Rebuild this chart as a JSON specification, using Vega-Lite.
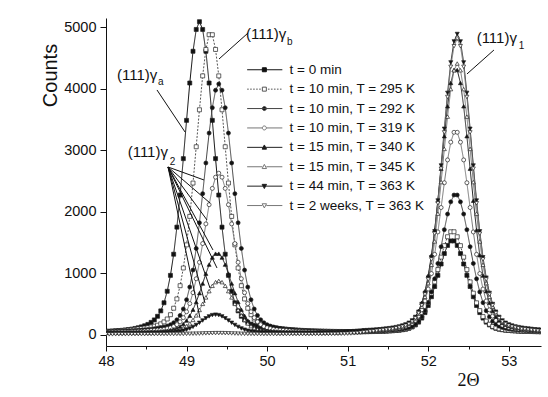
{
"$schema":"https://vega.github.io/schema/vega-lite/v6.json",
"width":435,"height":328,
"autosize":{"type":"none"},
"padding":{"left":106,"top":18,"right":7,"bottom":51},
"background":"#ffffff",
"config":{"view":{"stroke":null},"font":"Liberation Sans"},
"data":{"values":[
{"s":1,"x":48,"y":60},{"s":1,"x":48.04,"y":62},{"s":1,"x":48.08,"y":65},{"s":1,"x":48.12,"y":68},{"s":1,"x":48.16,"y":72},{"s":1,"x":48.2,"y":76},{"s":1,"x":48.24,"y":82},{"s":1,"x":48.28,"y":88},{"s":1,"x":48.32,"y":96},{"s":1,"x":48.36,"y":106},
{"s":1,"x":48.4,"y":118},{"s":1,"x":48.44,"y":132},{"s":1,"x":48.48,"y":150},{"s":1,"x":48.52,"y":172},{"s":1,"x":48.56,"y":205},{"s":1,"x":48.6,"y":245},{"s":1,"x":48.64,"y":304},{"s":1,"x":48.68,"y":392},{"s":1,"x":48.72,"y":524},{"s":1,"x":48.76,"y":711},
{"s":1,"x":48.8,"y":969},{"s":1,"x":48.84,"y":1313},{"s":1,"x":48.88,"y":1753},{"s":1,"x":48.92,"y":2275},{"s":1,"x":48.96,"y":2867},{"s":1,"x":49,"y":3489},{"s":1,"x":49.04,"y":4096},{"s":1,"x":49.08,"y":4612},{"s":1,"x":49.12,"y":4967},{"s":1,"x":49.16,"y":5093},
{"s":1,"x":49.2,"y":4967},{"s":1,"x":49.24,"y":4612},{"s":1,"x":49.28,"y":4096},{"s":1,"x":49.32,"y":3489},{"s":1,"x":49.36,"y":2867},{"s":1,"x":49.4,"y":2275},{"s":1,"x":49.44,"y":1753},{"s":1,"x":49.48,"y":1313},{"s":1,"x":49.52,"y":969},{"s":1,"x":49.56,"y":711},
{"s":1,"x":49.6,"y":524},{"s":1,"x":49.64,"y":392},{"s":1,"x":49.68,"y":304},{"s":1,"x":49.72,"y":245},{"s":1,"x":49.76,"y":205},{"s":1,"x":49.8,"y":177},{"s":1,"x":49.84,"y":158},{"s":1,"x":49.88,"y":143},{"s":1,"x":49.92,"y":132},{"s":1,"x":49.96,"y":122},
{"s":1,"x":50,"y":114},{"s":1,"x":50.04,"y":107},{"s":1,"x":50.08,"y":101},{"s":1,"x":50.12,"y":96},{"s":1,"x":50.16,"y":91},{"s":1,"x":50.2,"y":88},{"s":1,"x":50.24,"y":84},{"s":1,"x":50.28,"y":81},{"s":1,"x":50.32,"y":78},{"s":1,"x":50.36,"y":74},
{"s":1,"x":50.4,"y":70},{"s":1,"x":50.44,"y":68},{"s":1,"x":50.48,"y":66},{"s":1,"x":50.52,"y":64},{"s":1,"x":50.56,"y":62},{"s":1,"x":50.6,"y":61},{"s":1,"x":50.64,"y":60},{"s":1,"x":50.68,"y":59},{"s":1,"x":50.72,"y":58},{"s":1,"x":50.76,"y":57},
{"s":1,"x":50.8,"y":56},{"s":1,"x":50.84,"y":56},{"s":1,"x":50.88,"y":55},{"s":1,"x":50.92,"y":55},{"s":1,"x":50.96,"y":54},{"s":1,"x":51,"y":54},{"s":1,"x":51.04,"y":53},{"s":1,"x":51.08,"y":52},{"s":1,"x":51.12,"y":52},{"s":1,"x":51.16,"y":52},
{"s":1,"x":51.2,"y":53},{"s":1,"x":51.24,"y":54},{"s":1,"x":51.28,"y":55},{"s":1,"x":51.32,"y":56},{"s":1,"x":51.36,"y":58},{"s":1,"x":51.4,"y":59},{"s":1,"x":51.44,"y":61},{"s":1,"x":51.48,"y":63},{"s":1,"x":51.52,"y":66},{"s":1,"x":51.56,"y":69},
{"s":1,"x":51.6,"y":73},{"s":1,"x":51.64,"y":78},{"s":1,"x":51.68,"y":85},{"s":1,"x":51.72,"y":94},{"s":1,"x":51.76,"y":109},{"s":1,"x":51.8,"y":130},{"s":1,"x":51.84,"y":163},{"s":1,"x":51.88,"y":209},{"s":1,"x":51.92,"y":275},{"s":1,"x":51.96,"y":364},
{"s":1,"x":52,"y":479},{"s":1,"x":52.04,"y":622},{"s":1,"x":52.08,"y":788},{"s":1,"x":52.12,"y":970},{"s":1,"x":52.16,"y":1154},{"s":1,"x":52.2,"y":1324},{"s":1,"x":52.24,"y":1456},{"s":1,"x":52.28,"y":1529},{"s":1,"x":52.32,"y":1529},{"s":1,"x":52.36,"y":1456},
{"s":1,"x":52.4,"y":1324},{"s":1,"x":52.44,"y":1154},{"s":1,"x":52.48,"y":970},{"s":1,"x":52.52,"y":788},{"s":1,"x":52.56,"y":622},{"s":1,"x":52.6,"y":479},{"s":1,"x":52.64,"y":364},{"s":1,"x":52.68,"y":275},{"s":1,"x":52.72,"y":209},{"s":1,"x":52.76,"y":163},
{"s":1,"x":52.8,"y":130},{"s":1,"x":52.84,"y":109},{"s":1,"x":52.88,"y":94},{"s":1,"x":52.92,"y":85},{"s":1,"x":52.96,"y":78},{"s":1,"x":53,"y":73},{"s":1,"x":53.04,"y":69},{"s":1,"x":53.08,"y":66},{"s":1,"x":53.12,"y":63},{"s":1,"x":53.16,"y":61},
{"s":1,"x":53.2,"y":59},{"s":1,"x":53.24,"y":58},{"s":1,"x":53.28,"y":56},{"s":1,"x":53.32,"y":55},{"s":1,"x":53.36,"y":54},{"s":1,"x":53.4,"y":53},

{"s":2,"x":48,"y":55},{"s":2,"x":48.04,"y":57},{"s":2,"x":48.08,"y":60},{"s":2,"x":48.12,"y":63},{"s":2,"x":48.16,"y":66},{"s":2,"x":48.2,"y":70},{"s":2,"x":48.24,"y":75},{"s":2,"x":48.28,"y":80},{"s":2,"x":48.32,"y":86},{"s":2,"x":48.36,"y":92},
{"s":2,"x":48.4,"y":99},{"s":2,"x":48.44,"y":105},{"s":2,"x":48.48,"y":112},{"s":2,"x":48.52,"y":120},{"s":2,"x":48.56,"y":131},{"s":2,"x":48.6,"y":143},{"s":2,"x":48.64,"y":159},{"s":2,"x":48.68,"y":181},{"s":2,"x":48.72,"y":213},{"s":2,"x":48.76,"y":260},
{"s":2,"x":48.8,"y":330},{"s":2,"x":48.84,"y":435},{"s":2,"x":48.88,"y":586},{"s":2,"x":48.92,"y":801},{"s":2,"x":48.96,"y":1089},{"s":2,"x":49,"y":1465},{"s":2,"x":49.04,"y":1928},{"s":2,"x":49.08,"y":2470},{"s":2,"x":49.12,"y":3060},{"s":2,"x":49.16,"y":3661},
{"s":2,"x":49.2,"y":4212},{"s":2,"x":49.24,"y":4642},{"s":2,"x":49.28,"y":4881},{"s":2,"x":49.32,"y":4881},{"s":2,"x":49.36,"y":4642},{"s":2,"x":49.4,"y":4212},{"s":2,"x":49.44,"y":3661},{"s":2,"x":49.48,"y":3060},{"s":2,"x":49.52,"y":2470},{"s":2,"x":49.56,"y":1928},
{"s":2,"x":49.6,"y":1465},{"s":2,"x":49.64,"y":1089},{"s":2,"x":49.68,"y":801},{"s":2,"x":49.72,"y":586},{"s":2,"x":49.76,"y":435},{"s":2,"x":49.8,"y":330},{"s":2,"x":49.84,"y":260},{"s":2,"x":49.88,"y":213},{"s":2,"x":49.92,"y":181},{"s":2,"x":49.96,"y":159},
{"s":2,"x":50,"y":143},{"s":2,"x":50.04,"y":131},{"s":2,"x":50.08,"y":120},{"s":2,"x":50.12,"y":112},{"s":2,"x":50.16,"y":105},{"s":2,"x":50.2,"y":99},{"s":2,"x":50.24,"y":93},{"s":2,"x":50.28,"y":89},{"s":2,"x":50.32,"y":84},{"s":2,"x":50.36,"y":81},
{"s":2,"x":50.4,"y":77},{"s":2,"x":50.44,"y":74},{"s":2,"x":50.48,"y":71},{"s":2,"x":50.52,"y":69},{"s":2,"x":50.56,"y":67},{"s":2,"x":50.6,"y":65},{"s":2,"x":50.64,"y":63},{"s":2,"x":50.68,"y":62},{"s":2,"x":50.72,"y":61},{"s":2,"x":50.76,"y":60},
{"s":2,"x":50.8,"y":59},{"s":2,"x":50.84,"y":58},{"s":2,"x":50.88,"y":57},{"s":2,"x":50.92,"y":57},{"s":2,"x":50.96,"y":56},{"s":2,"x":51,"y":56},{"s":2,"x":51.04,"y":55},{"s":2,"x":51.08,"y":55},{"s":2,"x":51.12,"y":55},{"s":2,"x":51.16,"y":55},
{"s":2,"x":51.2,"y":55},{"s":2,"x":51.24,"y":56},{"s":2,"x":51.28,"y":57},{"s":2,"x":51.32,"y":58},{"s":2,"x":51.36,"y":59},{"s":2,"x":51.4,"y":61},{"s":2,"x":51.44,"y":63},{"s":2,"x":51.48,"y":66},{"s":2,"x":51.52,"y":69},{"s":2,"x":51.56,"y":72},
{"s":2,"x":51.6,"y":76},{"s":2,"x":51.64,"y":82},{"s":2,"x":51.68,"y":89},{"s":2,"x":51.72,"y":100},{"s":2,"x":51.76,"y":116},{"s":2,"x":51.8,"y":139},{"s":2,"x":51.84,"y":175},{"s":2,"x":51.88,"y":226},{"s":2,"x":51.92,"y":299},{"s":2,"x":51.96,"y":396},
{"s":2,"x":52,"y":523},{"s":2,"x":52.04,"y":680},{"s":2,"x":52.08,"y":863},{"s":2,"x":52.12,"y":1063},{"s":2,"x":52.16,"y":1266},{"s":2,"x":52.2,"y":1452},{"s":2,"x":52.24,"y":1597},{"s":2,"x":52.28,"y":1678},{"s":2,"x":52.32,"y":1678},{"s":2,"x":52.36,"y":1597},
{"s":2,"x":52.4,"y":1452},{"s":2,"x":52.44,"y":1266},{"s":2,"x":52.48,"y":1063},{"s":2,"x":52.52,"y":863},{"s":2,"x":52.56,"y":680},{"s":2,"x":52.6,"y":523},{"s":2,"x":52.64,"y":396},{"s":2,"x":52.68,"y":299},{"s":2,"x":52.72,"y":226},{"s":2,"x":52.76,"y":175},
{"s":2,"x":52.8,"y":139},{"s":2,"x":52.84,"y":116},{"s":2,"x":52.88,"y":100},{"s":2,"x":52.92,"y":89},{"s":2,"x":52.96,"y":82},{"s":2,"x":53,"y":76},{"s":2,"x":53.04,"y":72},{"s":2,"x":53.08,"y":69},{"s":2,"x":53.12,"y":66},{"s":2,"x":53.16,"y":63},
{"s":2,"x":53.2,"y":61},{"s":2,"x":53.24,"y":59},{"s":2,"x":53.28,"y":58},{"s":2,"x":53.32,"y":56},{"s":2,"x":53.36,"y":55},{"s":2,"x":53.4,"y":54},

{"s":3,"x":48,"y":54},{"s":3,"x":48.04,"y":56},{"s":3,"x":48.08,"y":57},{"s":3,"x":48.12,"y":59},{"s":3,"x":48.16,"y":61},{"s":3,"x":48.2,"y":63},{"s":3,"x":48.24,"y":66},{"s":3,"x":48.28,"y":68},{"s":3,"x":48.32,"y":71},{"s":3,"x":48.36,"y":74},
{"s":3,"x":48.4,"y":77},{"s":3,"x":48.44,"y":80},{"s":3,"x":48.48,"y":85},{"s":3,"x":48.52,"y":90},{"s":3,"x":48.56,"y":95},{"s":3,"x":48.6,"y":101},{"s":3,"x":48.64,"y":109},{"s":3,"x":48.68,"y":118},{"s":3,"x":48.72,"y":130},{"s":3,"x":48.76,"y":145},
{"s":3,"x":48.8,"y":167},{"s":3,"x":48.84,"y":199},{"s":3,"x":48.88,"y":247},{"s":3,"x":48.92,"y":318},{"s":3,"x":48.96,"y":423},{"s":3,"x":49,"y":573},{"s":3,"x":49.04,"y":779},{"s":3,"x":49.08,"y":1055},{"s":3,"x":49.12,"y":1407},{"s":3,"x":49.16,"y":1824},
{"s":3,"x":49.2,"y":2298},{"s":3,"x":49.24,"y":2796},{"s":3,"x":49.28,"y":3282},{"s":3,"x":49.32,"y":3695},{"s":3,"x":49.36,"y":3979},{"s":3,"x":49.4,"y":4080},{"s":3,"x":49.44,"y":3979},{"s":3,"x":49.48,"y":3695},{"s":3,"x":49.52,"y":3282},{"s":3,"x":49.56,"y":2796},
{"s":3,"x":49.6,"y":2298},{"s":3,"x":49.64,"y":1824},{"s":3,"x":49.68,"y":1407},{"s":3,"x":49.72,"y":1055},{"s":3,"x":49.76,"y":779},{"s":3,"x":49.8,"y":573},{"s":3,"x":49.84,"y":423},{"s":3,"x":49.88,"y":318},{"s":3,"x":49.92,"y":247},{"s":3,"x":49.96,"y":199},
{"s":3,"x":50,"y":167},{"s":3,"x":50.04,"y":145},{"s":3,"x":50.08,"y":130},{"s":3,"x":50.12,"y":118},{"s":3,"x":50.16,"y":109},{"s":3,"x":50.2,"y":101},{"s":3,"x":50.24,"y":95},{"s":3,"x":50.28,"y":90},{"s":3,"x":50.32,"y":85},{"s":3,"x":50.36,"y":80},
{"s":3,"x":50.4,"y":77},{"s":3,"x":50.44,"y":74},{"s":3,"x":50.48,"y":71},{"s":3,"x":50.52,"y":68},{"s":3,"x":50.56,"y":66},{"s":3,"x":50.6,"y":63},{"s":3,"x":50.64,"y":61},{"s":3,"x":50.68,"y":59},{"s":3,"x":50.72,"y":57},{"s":3,"x":50.76,"y":56},
{"s":3,"x":50.8,"y":55},{"s":3,"x":50.84,"y":54},{"s":3,"x":50.88,"y":54},{"s":3,"x":50.92,"y":54},{"s":3,"x":50.96,"y":54},{"s":3,"x":51,"y":54},{"s":3,"x":51.04,"y":54},{"s":3,"x":51.08,"y":55},{"s":3,"x":51.12,"y":55},{"s":3,"x":51.16,"y":56},
{"s":3,"x":51.2,"y":58},{"s":3,"x":51.24,"y":60},{"s":3,"x":51.28,"y":61},{"s":3,"x":51.32,"y":63},{"s":3,"x":51.36,"y":65},{"s":3,"x":51.4,"y":67},{"s":3,"x":51.44,"y":70},{"s":3,"x":51.48,"y":72},{"s":3,"x":51.52,"y":76},{"s":3,"x":51.56,"y":80},
{"s":3,"x":51.6,"y":84},{"s":3,"x":51.64,"y":90},{"s":3,"x":51.68,"y":98},{"s":3,"x":51.72,"y":108},{"s":3,"x":51.76,"y":123},{"s":3,"x":51.8,"y":144},{"s":3,"x":51.84,"y":176},{"s":3,"x":51.88,"y":225},{"s":3,"x":51.92,"y":295},{"s":3,"x":51.96,"y":394},
{"s":3,"x":52,"y":526},{"s":3,"x":52.04,"y":700},{"s":3,"x":52.08,"y":913},{"s":3,"x":52.12,"y":1163},{"s":3,"x":52.16,"y":1435},{"s":3,"x":52.2,"y":1712},{"s":3,"x":52.24,"y":1966},{"s":3,"x":52.28,"y":2164},{"s":3,"x":52.32,"y":2275},{"s":3,"x":52.36,"y":2275},
{"s":3,"x":52.4,"y":2164},{"s":3,"x":52.44,"y":1966},{"s":3,"x":52.48,"y":1712},{"s":3,"x":52.52,"y":1435},{"s":3,"x":52.56,"y":1163},{"s":3,"x":52.6,"y":913},{"s":3,"x":52.64,"y":700},{"s":3,"x":52.68,"y":526},{"s":3,"x":52.72,"y":394},{"s":3,"x":52.76,"y":295},
{"s":3,"x":52.8,"y":225},{"s":3,"x":52.84,"y":176},{"s":3,"x":52.88,"y":144},{"s":3,"x":52.92,"y":123},{"s":3,"x":52.96,"y":108},{"s":3,"x":53,"y":98},{"s":3,"x":53.04,"y":90},{"s":3,"x":53.08,"y":84},{"s":3,"x":53.12,"y":80},{"s":3,"x":53.16,"y":76},
{"s":3,"x":53.2,"y":72},{"s":3,"x":53.24,"y":70},{"s":3,"x":53.28,"y":67},{"s":3,"x":53.32,"y":65},{"s":3,"x":53.36,"y":63},{"s":3,"x":53.4,"y":61},

{"s":4,"x":48,"y":46},{"s":4,"x":48.04,"y":46},{"s":4,"x":48.08,"y":47},{"s":4,"x":48.12,"y":48},{"s":4,"x":48.16,"y":50},{"s":4,"x":48.2,"y":51},{"s":4,"x":48.24,"y":53},{"s":4,"x":48.28,"y":54},{"s":4,"x":48.32,"y":56},{"s":4,"x":48.36,"y":58},
{"s":4,"x":48.4,"y":60},{"s":4,"x":48.44,"y":62},{"s":4,"x":48.48,"y":65},{"s":4,"x":48.52,"y":68},{"s":4,"x":48.56,"y":72},{"s":4,"x":48.6,"y":76},{"s":4,"x":48.64,"y":81},{"s":4,"x":48.68,"y":87},{"s":4,"x":48.72,"y":94},{"s":4,"x":48.76,"y":104},
{"s":4,"x":48.8,"y":118},{"s":4,"x":48.84,"y":139},{"s":4,"x":48.88,"y":169},{"s":4,"x":48.92,"y":215},{"s":4,"x":48.96,"y":282},{"s":4,"x":49,"y":378},{"s":4,"x":49.04,"y":511},{"s":4,"x":49.08,"y":688},{"s":4,"x":49.12,"y":914},{"s":4,"x":49.16,"y":1182},
{"s":4,"x":49.2,"y":1486},{"s":4,"x":49.24,"y":1806},{"s":4,"x":49.28,"y":2118},{"s":4,"x":49.32,"y":2383},{"s":4,"x":49.36,"y":2565},{"s":4,"x":49.4,"y":2630},{"s":4,"x":49.44,"y":2565},{"s":4,"x":49.48,"y":2383},{"s":4,"x":49.52,"y":2118},{"s":4,"x":49.56,"y":1806},
{"s":4,"x":49.6,"y":1486},{"s":4,"x":49.64,"y":1182},{"s":4,"x":49.68,"y":914},{"s":4,"x":49.72,"y":688},{"s":4,"x":49.76,"y":511},{"s":4,"x":49.8,"y":378},{"s":4,"x":49.84,"y":282},{"s":4,"x":49.88,"y":215},{"s":4,"x":49.92,"y":169},{"s":4,"x":49.96,"y":139},
{"s":4,"x":50,"y":118},{"s":4,"x":50.04,"y":104},{"s":4,"x":50.08,"y":94},{"s":4,"x":50.12,"y":87},{"s":4,"x":50.16,"y":81},{"s":4,"x":50.2,"y":76},{"s":4,"x":50.24,"y":72},{"s":4,"x":50.28,"y":68},{"s":4,"x":50.32,"y":65},{"s":4,"x":50.36,"y":62},
{"s":4,"x":50.4,"y":60},{"s":4,"x":50.44,"y":58},{"s":4,"x":50.48,"y":56},{"s":4,"x":50.52,"y":54},{"s":4,"x":50.56,"y":53},{"s":4,"x":50.6,"y":51},{"s":4,"x":50.64,"y":50},{"s":4,"x":50.68,"y":49},{"s":4,"x":50.72,"y":48},{"s":4,"x":50.76,"y":48},
{"s":4,"x":50.8,"y":47},{"s":4,"x":50.84,"y":47},{"s":4,"x":50.88,"y":48},{"s":4,"x":50.92,"y":48},{"s":4,"x":50.96,"y":49},{"s":4,"x":51,"y":50},{"s":4,"x":51.04,"y":52},{"s":4,"x":51.08,"y":55},{"s":4,"x":51.12,"y":58},{"s":4,"x":51.16,"y":61},
{"s":4,"x":51.2,"y":64},{"s":4,"x":51.24,"y":67},{"s":4,"x":51.28,"y":69},{"s":4,"x":51.32,"y":71},{"s":4,"x":51.36,"y":74},{"s":4,"x":51.4,"y":78},{"s":4,"x":51.44,"y":81},{"s":4,"x":51.48,"y":85},{"s":4,"x":51.52,"y":90},{"s":4,"x":51.56,"y":96},
{"s":4,"x":51.6,"y":103},{"s":4,"x":51.64,"y":111},{"s":4,"x":51.68,"y":122},{"s":4,"x":51.72,"y":137},{"s":4,"x":51.76,"y":158},{"s":4,"x":51.8,"y":189},{"s":4,"x":51.84,"y":237},{"s":4,"x":51.88,"y":307},{"s":4,"x":51.92,"y":409},{"s":4,"x":51.96,"y":553},
{"s":4,"x":52,"y":747},{"s":4,"x":52.04,"y":999},{"s":4,"x":52.08,"y":1311},{"s":4,"x":52.12,"y":1675},{"s":4,"x":52.16,"y":2072},{"s":4,"x":52.2,"y":2475},{"s":4,"x":52.24,"y":2846},{"s":4,"x":52.28,"y":3135},{"s":4,"x":52.32,"y":3295},{"s":4,"x":52.36,"y":3295},
{"s":4,"x":52.4,"y":3135},{"s":4,"x":52.44,"y":2846},{"s":4,"x":52.48,"y":2475},{"s":4,"x":52.52,"y":2072},{"s":4,"x":52.56,"y":1675},{"s":4,"x":52.6,"y":1311},{"s":4,"x":52.64,"y":999},{"s":4,"x":52.68,"y":747},{"s":4,"x":52.72,"y":553},{"s":4,"x":52.76,"y":409},
{"s":4,"x":52.8,"y":307},{"s":4,"x":52.84,"y":237},{"s":4,"x":52.88,"y":189},{"s":4,"x":52.92,"y":158},{"s":4,"x":52.96,"y":137},{"s":4,"x":53,"y":122},{"s":4,"x":53.04,"y":111},{"s":4,"x":53.08,"y":103},{"s":4,"x":53.12,"y":96},{"s":4,"x":53.16,"y":90},
{"s":4,"x":53.2,"y":85},{"s":4,"x":53.24,"y":81},{"s":4,"x":53.28,"y":78},{"s":4,"x":53.32,"y":74},{"s":4,"x":53.36,"y":71},{"s":4,"x":53.4,"y":69},

{"s":5,"x":48,"y":38},{"s":5,"x":48.04,"y":38},{"s":5,"x":48.08,"y":39},{"s":5,"x":48.12,"y":40},{"s":5,"x":48.16,"y":40},{"s":5,"x":48.2,"y":41},{"s":5,"x":48.24,"y":42},{"s":5,"x":48.28,"y":43},{"s":5,"x":48.32,"y":44},{"s":5,"x":48.36,"y":44},
{"s":5,"x":48.4,"y":46},{"s":5,"x":48.44,"y":47},{"s":5,"x":48.48,"y":48},{"s":5,"x":48.52,"y":50},{"s":5,"x":48.56,"y":52},{"s":5,"x":48.6,"y":54},{"s":5,"x":48.64,"y":57},{"s":5,"x":48.68,"y":60},{"s":5,"x":48.72,"y":64},{"s":5,"x":48.76,"y":70},
{"s":5,"x":48.8,"y":79},{"s":5,"x":48.84,"y":91},{"s":5,"x":48.88,"y":110},{"s":5,"x":48.92,"y":138},{"s":5,"x":48.96,"y":178},{"s":5,"x":49,"y":235},{"s":5,"x":49.04,"y":312},{"s":5,"x":49.08,"y":412},{"s":5,"x":49.12,"y":536},{"s":5,"x":49.16,"y":680},
{"s":5,"x":49.2,"y":837},{"s":5,"x":49.24,"y":997},{"s":5,"x":49.28,"y":1144},{"s":5,"x":49.32,"y":1259},{"s":5,"x":49.36,"y":1322},{"s":5,"x":49.4,"y":1322},{"s":5,"x":49.44,"y":1259},{"s":5,"x":49.48,"y":1144},{"s":5,"x":49.52,"y":997},{"s":5,"x":49.56,"y":837},
{"s":5,"x":49.6,"y":680},{"s":5,"x":49.64,"y":536},{"s":5,"x":49.68,"y":412},{"s":5,"x":49.72,"y":312},{"s":5,"x":49.76,"y":235},{"s":5,"x":49.8,"y":178},{"s":5,"x":49.84,"y":138},{"s":5,"x":49.88,"y":110},{"s":5,"x":49.92,"y":91},{"s":5,"x":49.96,"y":79},
{"s":5,"x":50,"y":70},{"s":5,"x":50.04,"y":64},{"s":5,"x":50.08,"y":60},{"s":5,"x":50.12,"y":57},{"s":5,"x":50.16,"y":54},{"s":5,"x":50.2,"y":52},{"s":5,"x":50.24,"y":50},{"s":5,"x":50.28,"y":48},{"s":5,"x":50.32,"y":47},{"s":5,"x":50.36,"y":46},
{"s":5,"x":50.4,"y":44},{"s":5,"x":50.44,"y":43},{"s":5,"x":50.48,"y":42},{"s":5,"x":50.52,"y":42},{"s":5,"x":50.56,"y":41},{"s":5,"x":50.6,"y":41},{"s":5,"x":50.64,"y":41},{"s":5,"x":50.68,"y":41},{"s":5,"x":50.72,"y":42},{"s":5,"x":50.76,"y":42},
{"s":5,"x":50.8,"y":44},{"s":5,"x":50.84,"y":46},{"s":5,"x":50.88,"y":48},{"s":5,"x":50.92,"y":50},{"s":5,"x":50.96,"y":52},{"s":5,"x":51,"y":54},{"s":5,"x":51.04,"y":57},{"s":5,"x":51.08,"y":60},{"s":5,"x":51.12,"y":64},{"s":5,"x":51.16,"y":68},
{"s":5,"x":51.2,"y":72},{"s":5,"x":51.24,"y":75},{"s":5,"x":51.28,"y":78},{"s":5,"x":51.32,"y":81},{"s":5,"x":51.36,"y":85},{"s":5,"x":51.4,"y":89},{"s":5,"x":51.44,"y":94},{"s":5,"x":51.48,"y":99},{"s":5,"x":51.52,"y":105},{"s":5,"x":51.56,"y":113},
{"s":5,"x":51.6,"y":122},{"s":5,"x":51.64,"y":133},{"s":5,"x":51.68,"y":147},{"s":5,"x":51.72,"y":166},{"s":5,"x":51.76,"y":195},{"s":5,"x":51.8,"y":236},{"s":5,"x":51.84,"y":297},{"s":5,"x":51.88,"y":390},{"s":5,"x":51.92,"y":523},{"s":5,"x":51.96,"y":712},
{"s":5,"x":52,"y":966},{"s":5,"x":52.04,"y":1297},{"s":5,"x":52.08,"y":1706},{"s":5,"x":52.12,"y":2183},{"s":5,"x":52.16,"y":2703},{"s":5,"x":52.2,"y":3232},{"s":5,"x":52.24,"y":3718},{"s":5,"x":52.28,"y":4097},{"s":5,"x":52.32,"y":4307},{"s":5,"x":52.36,"y":4307},
{"s":5,"x":52.4,"y":4097},{"s":5,"x":52.44,"y":3718},{"s":5,"x":52.48,"y":3232},{"s":5,"x":52.52,"y":2703},{"s":5,"x":52.56,"y":2183},{"s":5,"x":52.6,"y":1706},{"s":5,"x":52.64,"y":1297},{"s":5,"x":52.68,"y":966},{"s":5,"x":52.72,"y":712},{"s":5,"x":52.76,"y":523},
{"s":5,"x":52.8,"y":390},{"s":5,"x":52.84,"y":297},{"s":5,"x":52.88,"y":236},{"s":5,"x":52.92,"y":195},{"s":5,"x":52.96,"y":166},{"s":5,"x":53,"y":147},{"s":5,"x":53.04,"y":133},{"s":5,"x":53.08,"y":122},{"s":5,"x":53.12,"y":113},{"s":5,"x":53.16,"y":105},
{"s":5,"x":53.2,"y":99},{"s":5,"x":53.24,"y":94},{"s":5,"x":53.28,"y":89},{"s":5,"x":53.32,"y":85},{"s":5,"x":53.36,"y":81},{"s":5,"x":53.4,"y":78},

{"s":6,"x":48,"y":35},{"s":6,"x":48.04,"y":35},{"s":6,"x":48.08,"y":36},{"s":6,"x":48.12,"y":36},{"s":6,"x":48.16,"y":36},{"s":6,"x":48.2,"y":37},{"s":6,"x":48.24,"y":37},{"s":6,"x":48.28,"y":38},{"s":6,"x":48.32,"y":39},{"s":6,"x":48.36,"y":39},
{"s":6,"x":48.4,"y":40},{"s":6,"x":48.44,"y":41},{"s":6,"x":48.48,"y":41},{"s":6,"x":48.52,"y":42},{"s":6,"x":48.56,"y":44},{"s":6,"x":48.6,"y":45},{"s":6,"x":48.64,"y":47},{"s":6,"x":48.68,"y":49},{"s":6,"x":48.72,"y":51},{"s":6,"x":48.76,"y":54},
{"s":6,"x":48.8,"y":59},{"s":6,"x":48.84,"y":66},{"s":6,"x":48.88,"y":76},{"s":6,"x":48.92,"y":90},{"s":6,"x":48.96,"y":112},{"s":6,"x":49,"y":144},{"s":6,"x":49.04,"y":187},{"s":6,"x":49.08,"y":245},{"s":6,"x":49.12,"y":319},{"s":6,"x":49.16,"y":407},
{"s":6,"x":49.2,"y":506},{"s":6,"x":49.24,"y":611},{"s":6,"x":49.28,"y":713},{"s":6,"x":49.32,"y":799},{"s":6,"x":49.36,"y":859},{"s":6,"x":49.4,"y":880},{"s":6,"x":49.44,"y":859},{"s":6,"x":49.48,"y":799},{"s":6,"x":49.52,"y":713},{"s":6,"x":49.56,"y":611},
{"s":6,"x":49.6,"y":506},{"s":6,"x":49.64,"y":407},{"s":6,"x":49.68,"y":319},{"s":6,"x":49.72,"y":245},{"s":6,"x":49.76,"y":187},{"s":6,"x":49.8,"y":144},{"s":6,"x":49.84,"y":112},{"s":6,"x":49.88,"y":90},{"s":6,"x":49.92,"y":76},{"s":6,"x":49.96,"y":66},
{"s":6,"x":50,"y":59},{"s":6,"x":50.04,"y":54},{"s":6,"x":50.08,"y":51},{"s":6,"x":50.12,"y":49},{"s":6,"x":50.16,"y":47},{"s":6,"x":50.2,"y":45},{"s":6,"x":50.24,"y":44},{"s":6,"x":50.28,"y":42},{"s":6,"x":50.32,"y":41},{"s":6,"x":50.36,"y":41},
{"s":6,"x":50.4,"y":40},{"s":6,"x":50.44,"y":39},{"s":6,"x":50.48,"y":39},{"s":6,"x":50.52,"y":38},{"s":6,"x":50.56,"y":38},{"s":6,"x":50.6,"y":38},{"s":6,"x":50.64,"y":38},{"s":6,"x":50.68,"y":38},{"s":6,"x":50.72,"y":39},{"s":6,"x":50.76,"y":40},
{"s":6,"x":50.8,"y":42},{"s":6,"x":50.84,"y":44},{"s":6,"x":50.88,"y":46},{"s":6,"x":50.92,"y":48},{"s":6,"x":50.96,"y":50},{"s":6,"x":51,"y":53},{"s":6,"x":51.04,"y":56},{"s":6,"x":51.08,"y":60},{"s":6,"x":51.12,"y":64},{"s":6,"x":51.16,"y":68},
{"s":6,"x":51.2,"y":72},{"s":6,"x":51.24,"y":74},{"s":6,"x":51.28,"y":77},{"s":6,"x":51.32,"y":80},{"s":6,"x":51.36,"y":83},{"s":6,"x":51.4,"y":87},{"s":6,"x":51.44,"y":92},{"s":6,"x":51.48,"y":97},{"s":6,"x":51.52,"y":103},{"s":6,"x":51.56,"y":110},
{"s":6,"x":51.6,"y":118},{"s":6,"x":51.64,"y":128},{"s":6,"x":51.68,"y":141},{"s":6,"x":51.72,"y":158},{"s":6,"x":51.76,"y":181},{"s":6,"x":51.8,"y":216},{"s":6,"x":51.84,"y":268},{"s":6,"x":51.88,"y":344},{"s":6,"x":51.92,"y":458},{"s":6,"x":51.96,"y":620},
{"s":6,"x":52,"y":843},{"s":6,"x":52.04,"y":1141},{"s":6,"x":52.08,"y":1522},{"s":6,"x":52.12,"y":1973},{"s":6,"x":52.16,"y":2486},{"s":6,"x":52.2,"y":3025},{"s":6,"x":52.24,"y":3550},{"s":6,"x":52.28,"y":3997},{"s":6,"x":52.32,"y":4304},{"s":6,"x":52.36,"y":4413},
{"s":6,"x":52.4,"y":4304},{"s":6,"x":52.44,"y":3997},{"s":6,"x":52.48,"y":3550},{"s":6,"x":52.52,"y":3025},{"s":6,"x":52.56,"y":2486},{"s":6,"x":52.6,"y":1973},{"s":6,"x":52.64,"y":1522},{"s":6,"x":52.68,"y":1141},{"s":6,"x":52.72,"y":843},{"s":6,"x":52.76,"y":620},
{"s":6,"x":52.8,"y":458},{"s":6,"x":52.84,"y":344},{"s":6,"x":52.88,"y":268},{"s":6,"x":52.92,"y":216},{"s":6,"x":52.96,"y":181},{"s":6,"x":53,"y":158},{"s":6,"x":53.04,"y":141},{"s":6,"x":53.08,"y":128},{"s":6,"x":53.12,"y":118},{"s":6,"x":53.16,"y":110},
{"s":6,"x":53.2,"y":103},{"s":6,"x":53.24,"y":97},{"s":6,"x":53.28,"y":92},{"s":6,"x":53.32,"y":87},{"s":6,"x":53.36,"y":83},{"s":6,"x":53.4,"y":80},

{"s":7,"x":48,"y":32},{"s":7,"x":48.04,"y":32},{"s":7,"x":48.08,"y":32},{"s":7,"x":48.12,"y":32},{"s":7,"x":48.16,"y":32},{"s":7,"x":48.2,"y":32},{"s":7,"x":48.24,"y":33},{"s":7,"x":48.28,"y":33},{"s":7,"x":48.32,"y":33},{"s":7,"x":48.36,"y":33},
{"s":7,"x":48.4,"y":34},{"s":7,"x":48.44,"y":34},{"s":7,"x":48.48,"y":34},{"s":7,"x":48.52,"y":35},{"s":7,"x":48.56,"y":35},{"s":7,"x":48.6,"y":36},{"s":7,"x":48.64,"y":37},{"s":7,"x":48.68,"y":37},{"s":7,"x":48.72,"y":39},{"s":7,"x":48.76,"y":40},
{"s":7,"x":48.8,"y":43},{"s":7,"x":48.84,"y":46},{"s":7,"x":48.88,"y":51},{"s":7,"x":48.92,"y":59},{"s":7,"x":48.96,"y":70},{"s":7,"x":49,"y":86},{"s":7,"x":49.04,"y":106},{"s":7,"x":49.08,"y":132},{"s":7,"x":49.12,"y":163},{"s":7,"x":49.16,"y":198},
{"s":7,"x":49.2,"y":235},{"s":7,"x":49.24,"y":271},{"s":7,"x":49.28,"y":302},{"s":7,"x":49.32,"y":323},{"s":7,"x":49.36,"y":330},{"s":7,"x":49.4,"y":323},{"s":7,"x":49.44,"y":302},{"s":7,"x":49.48,"y":271},{"s":7,"x":49.52,"y":235},{"s":7,"x":49.56,"y":198},
{"s":7,"x":49.6,"y":163},{"s":7,"x":49.64,"y":132},{"s":7,"x":49.68,"y":106},{"s":7,"x":49.72,"y":86},{"s":7,"x":49.76,"y":70},{"s":7,"x":49.8,"y":59},{"s":7,"x":49.84,"y":51},{"s":7,"x":49.88,"y":46},{"s":7,"x":49.92,"y":43},{"s":7,"x":49.96,"y":40},
{"s":7,"x":50,"y":39},{"s":7,"x":50.04,"y":37},{"s":7,"x":50.08,"y":37},{"s":7,"x":50.12,"y":36},{"s":7,"x":50.16,"y":35},{"s":7,"x":50.2,"y":35},{"s":7,"x":50.24,"y":35},{"s":7,"x":50.28,"y":35},{"s":7,"x":50.32,"y":35},{"s":7,"x":50.36,"y":35},
{"s":7,"x":50.4,"y":35},{"s":7,"x":50.44,"y":36},{"s":7,"x":50.48,"y":36},{"s":7,"x":50.52,"y":37},{"s":7,"x":50.56,"y":37},{"s":7,"x":50.6,"y":38},{"s":7,"x":50.64,"y":39},{"s":7,"x":50.68,"y":40},{"s":7,"x":50.72,"y":41},{"s":7,"x":50.76,"y":42},
{"s":7,"x":50.8,"y":44},{"s":7,"x":50.84,"y":46},{"s":7,"x":50.88,"y":48},{"s":7,"x":50.92,"y":50},{"s":7,"x":50.96,"y":53},{"s":7,"x":51,"y":56},{"s":7,"x":51.04,"y":59},{"s":7,"x":51.08,"y":63},{"s":7,"x":51.12,"y":67},{"s":7,"x":51.16,"y":71},
{"s":7,"x":51.2,"y":76},{"s":7,"x":51.24,"y":79},{"s":7,"x":51.28,"y":82},{"s":7,"x":51.32,"y":85},{"s":7,"x":51.36,"y":89},{"s":7,"x":51.4,"y":93},{"s":7,"x":51.44,"y":99},{"s":7,"x":51.48,"y":104},{"s":7,"x":51.52,"y":111},{"s":7,"x":51.56,"y":119},
{"s":7,"x":51.6,"y":128},{"s":7,"x":51.64,"y":139},{"s":7,"x":51.68,"y":153},{"s":7,"x":51.72,"y":172},{"s":7,"x":51.76,"y":198},{"s":7,"x":51.8,"y":236},{"s":7,"x":51.84,"y":293},{"s":7,"x":51.88,"y":378},{"s":7,"x":51.92,"y":504},{"s":7,"x":51.96,"y":684},
{"s":7,"x":52,"y":932},{"s":7,"x":52.04,"y":1263},{"s":7,"x":52.08,"y":1685},{"s":7,"x":52.12,"y":2186},{"s":7,"x":52.16,"y":2755},{"s":7,"x":52.2,"y":3352},{"s":7,"x":52.24,"y":3936},{"s":7,"x":52.28,"y":4431},{"s":7,"x":52.32,"y":4772},{"s":7,"x":52.36,"y":4893},
{"s":7,"x":52.4,"y":4772},{"s":7,"x":52.44,"y":4431},{"s":7,"x":52.48,"y":3936},{"s":7,"x":52.52,"y":3352},{"s":7,"x":52.56,"y":2755},{"s":7,"x":52.6,"y":2186},{"s":7,"x":52.64,"y":1685},{"s":7,"x":52.68,"y":1263},{"s":7,"x":52.72,"y":932},{"s":7,"x":52.76,"y":684},
{"s":7,"x":52.8,"y":504},{"s":7,"x":52.84,"y":378},{"s":7,"x":52.88,"y":293},{"s":7,"x":52.92,"y":236},{"s":7,"x":52.96,"y":198},{"s":7,"x":53,"y":172},{"s":7,"x":53.04,"y":153},{"s":7,"x":53.08,"y":139},{"s":7,"x":53.12,"y":128},{"s":7,"x":53.16,"y":119},
{"s":7,"x":53.2,"y":111},{"s":7,"x":53.24,"y":104},{"s":7,"x":53.28,"y":99},{"s":7,"x":53.32,"y":93},{"s":7,"x":53.36,"y":89},{"s":7,"x":53.4,"y":85},

{"s":8,"x":48,"y":10},{"s":8,"x":48.04,"y":10},{"s":8,"x":48.08,"y":10},{"s":8,"x":48.12,"y":11},{"s":8,"x":48.16,"y":11},{"s":8,"x":48.2,"y":11},{"s":8,"x":48.24,"y":11},{"s":8,"x":48.28,"y":11},{"s":8,"x":48.32,"y":12},{"s":8,"x":48.36,"y":12},
{"s":8,"x":48.4,"y":12},{"s":8,"x":48.44,"y":12},{"s":8,"x":48.48,"y":12},{"s":8,"x":48.52,"y":13},{"s":8,"x":48.56,"y":13},{"s":8,"x":48.6,"y":13},{"s":8,"x":48.64,"y":13},{"s":8,"x":48.68,"y":14},{"s":8,"x":48.72,"y":14},{"s":8,"x":48.76,"y":14},
{"s":8,"x":48.8,"y":15},{"s":8,"x":48.84,"y":15},{"s":8,"x":48.88,"y":16},{"s":8,"x":48.92,"y":16},{"s":8,"x":48.96,"y":17},{"s":8,"x":49,"y":18},{"s":8,"x":49.04,"y":19},{"s":8,"x":49.08,"y":20},{"s":8,"x":49.12,"y":21},{"s":8,"x":49.16,"y":22},
{"s":8,"x":49.2,"y":24},{"s":8,"x":49.24,"y":26},{"s":8,"x":49.28,"y":27},{"s":8,"x":49.32,"y":29},{"s":8,"x":49.36,"y":30},{"s":8,"x":49.4,"y":30},{"s":8,"x":49.44,"y":30},{"s":8,"x":49.48,"y":29},{"s":8,"x":49.52,"y":27},{"s":8,"x":49.56,"y":25},
{"s":8,"x":49.6,"y":23},{"s":8,"x":49.64,"y":21},{"s":8,"x":49.68,"y":19},{"s":8,"x":49.72,"y":18},{"s":8,"x":49.76,"y":17},{"s":8,"x":49.8,"y":16},{"s":8,"x":49.84,"y":15},{"s":8,"x":49.88,"y":15},{"s":8,"x":49.92,"y":14},{"s":8,"x":49.96,"y":14},
{"s":8,"x":50,"y":14},{"s":8,"x":50.04,"y":14},{"s":8,"x":50.08,"y":14},{"s":8,"x":50.12,"y":13},{"s":8,"x":50.16,"y":13},{"s":8,"x":50.2,"y":13},{"s":8,"x":50.24,"y":13},{"s":8,"x":50.28,"y":13},{"s":8,"x":50.32,"y":13},{"s":8,"x":50.36,"y":13},
{"s":8,"x":50.4,"y":13},{"s":8,"x":50.44,"y":13},{"s":8,"x":50.48,"y":13},{"s":8,"x":50.52,"y":13},{"s":8,"x":50.56,"y":13},{"s":8,"x":50.6,"y":14},{"s":8,"x":50.64,"y":14},{"s":8,"x":50.68,"y":14},{"s":8,"x":50.72,"y":15},{"s":8,"x":50.76,"y":15},
{"s":8,"x":50.8,"y":16},{"s":8,"x":50.84,"y":17},{"s":8,"x":50.88,"y":18},{"s":8,"x":50.92,"y":19},{"s":8,"x":50.96,"y":20},{"s":8,"x":51,"y":22},{"s":8,"x":51.04,"y":24},{"s":8,"x":51.08,"y":27},{"s":8,"x":51.12,"y":31},{"s":8,"x":51.16,"y":38},
{"s":8,"x":51.2,"y":44},{"s":8,"x":51.24,"y":50},{"s":8,"x":51.28,"y":56},{"s":8,"x":51.32,"y":62},{"s":8,"x":51.36,"y":68},{"s":8,"x":51.4,"y":74},{"s":8,"x":51.44,"y":80},{"s":8,"x":51.48,"y":86},{"s":8,"x":51.52,"y":92},{"s":8,"x":51.56,"y":99},
{"s":8,"x":51.6,"y":109},{"s":8,"x":51.64,"y":120},{"s":8,"x":51.68,"y":134},{"s":8,"x":51.72,"y":152},{"s":8,"x":51.76,"y":178},{"s":8,"x":51.8,"y":216},{"s":8,"x":51.84,"y":272},{"s":8,"x":51.88,"y":356},{"s":8,"x":51.92,"y":481},{"s":8,"x":51.96,"y":658},
{"s":8,"x":52,"y":903},{"s":8,"x":52.04,"y":1229},{"s":8,"x":52.08,"y":1647},{"s":8,"x":52.12,"y":2141},{"s":8,"x":52.16,"y":2703},{"s":8,"x":52.2,"y":3293},{"s":8,"x":52.24,"y":3869},{"s":8,"x":52.28,"y":4359},{"s":8,"x":52.32,"y":4695},{"s":8,"x":52.36,"y":4815},
{"s":8,"x":52.4,"y":4695},{"s":8,"x":52.44,"y":4359},{"s":8,"x":52.48,"y":3869},{"s":8,"x":52.52,"y":3293},{"s":8,"x":52.56,"y":2703},{"s":8,"x":52.6,"y":2141},{"s":8,"x":52.64,"y":1647},{"s":8,"x":52.68,"y":1229},{"s":8,"x":52.72,"y":903},{"s":8,"x":52.76,"y":658},
{"s":8,"x":52.8,"y":481},{"s":8,"x":52.84,"y":356},{"s":8,"x":52.88,"y":272},{"s":8,"x":52.92,"y":216},{"s":8,"x":52.96,"y":178},{"s":8,"x":53,"y":152},{"s":8,"x":53.04,"y":134},{"s":8,"x":53.08,"y":120},{"s":8,"x":53.12,"y":109},{"s":8,"x":53.16,"y":99},
{"s":8,"x":53.2,"y":92},{"s":8,"x":53.24,"y":86},{"s":8,"x":53.28,"y":80},{"s":8,"x":53.32,"y":75},{"s":8,"x":53.36,"y":70},{"s":8,"x":53.4,"y":67}
]},
"layer":[
{"mark":{"type":"line","strokeWidth":1,"clip":true},
 "encoding":{
  "x":{"field":"x","type":"quantitative","scale":{"domain":[48,53.4],"nice":false,"zero":false},
   "axis":{"title":"2Θ","titleFont":"Liberation Serif","titleFontSize":18,"titleFontWeight":"normal","titleColor":"#111","titleX":362,"titleY":34,"titleBaseline":"middle","titleAlign":"center",
    "values":[48,48.5,49,49.5,50,50.5,51,51.5,52,52.5,53],
    "labelExpr":"datum.value % 1 === 0 ? format(datum.value,'d') : ''",
    "tickSize":{"condition":{"test":"datum.value % 1 === 0","value":5},"value":3},
    "grid":false,"domainColor":"#111","tickColor":"#111","labelColor":"#111","labelFontSize":14.5,"labelFont":"Liberation Sans","labelPadding":3,"labelFlush":false,"labelOverlap":false,"domainWidth":1,"tickWidth":1}},
  "y":{"field":"y","type":"quantitative","scale":{"domain":[-179,5153],"nice":false,"zero":false},
   "axis":{"title":"Counts","titleFont":"Liberation Sans","titleFontSize":20,"titleFontWeight":"normal","titleColor":"#111","titleX":-56,"titleY":57,"titleAngle":-90,"titleBaseline":"middle","titleAlign":"center",
    "values":[0,500,1000,1500,2000,2500,3000,3500,4000,4500,5000],
    "labelExpr":"datum.value % 1000 === 0 ? format(datum.value,'d') : ''",
    "tickSize":{"condition":{"test":"datum.value % 1000 === 0","value":6},"value":3},
    "grid":false,"domainColor":"#111","tickColor":"#111","labelColor":"#111","labelFontSize":14.5,"labelFont":"Liberation Sans","labelPadding":4,"labelOverlap":false,"domainWidth":1,"tickWidth":1}},
  "detail":{"field":"s","type":"nominal"},
  "stroke":{"field":"s","type":"nominal","scale":{"domain":[1,2,3,4,5,6,7,8],"range":["#111","#555","#444","#777","#222","#777","#222","#777"]},"legend":null},
  "strokeDash":{"field":"s","type":"nominal","scale":{"domain":[1,2,3,4,5,6,7,8],"range":[[1,0],[2,1.5],[1,0],[1,0],[1,0],[1,0],[1,0],[1,0]]},"legend":null},
  "order":{"field":"x","type":"quantitative"}
 }},
{"mark":{"type":"point","filled":true,"size":16,"opacity":1,"stroke":"#222","strokeWidth":0.7,"clip":true},
 "encoding":{
  "x":{"field":"x","type":"quantitative"},
  "y":{"field":"y","type":"quantitative"},
  "shape":{"field":"s","type":"nominal","scale":{"domain":[1,2,3,4,5,6,7,8],"range":["square","square","circle","circle","triangle-up","triangle-up","triangle-down","triangle-down"]},"legend":null},
  "fill":{"field":"s","type":"nominal","scale":{"domain":[1,2,3,4,5,6,7,8],"range":["#111","#fff","#111","#fff","#111","#fff","#111","#fff"]},"legend":null}
 }},
{"transform":[{"filter":"false"}],
 "mark":{"type":"point","filled":true,"size":64,"opacity":1,"strokeWidth":1},
 "encoding":{
  "x":{"field":"x","type":"quantitative"},
  "y":{"field":"y","type":"quantitative"},
  "shape":{"field":"s","type":"nominal","scale":{"domain":[1,2,3,4,5,6,7,8],"range":[
    "M-7.9,0H0.9M-4.1,-0.5H-3.1V0.5H-4.1Z",
    "M-7.9,0H-7.5M-7.15,0H-6.75M-6.4,0H-6M-5.65,0H-5.25M-4.9,0H-4.5M-2.7,0H-2.3M-1.95,0H-1.55M-1.2,0H-0.8M-0.45,0H-0.05M0.3,0H0.7M-4.1,-0.5H-3.1V0.5H-4.1Z",
    "M-7.9,0H0.9M-3.1,0A0.5,0.5,0,1,1,-4.1,0A0.5,0.5,0,1,1,-3.1,0Z",
    "M-7.9,0H-4.1M-3.1,0H0.9M-3.1,0A0.5,0.5,0,1,1,-4.1,0A0.5,0.5,0,1,1,-3.1,0Z",
    "M-7.9,0H0.9M-3.6,-0.6L-3.05,0.45H-4.15Z",
    "M-7.9,0H-4.1M-3.1,0H0.9M-3.6,-0.6L-3.05,0.45H-4.15Z",
    "M-7.9,0H0.9M-3.6,0.6L-3.05,-0.45H-4.15Z",
    "M-7.9,0H-4.1M-3.1,0H0.9M-3.6,0.6L-3.05,-0.45H-4.15Z"]},
   "legend":{"title":null,"orient":"none","legendX":166,"legendY":45,"padding":0,"rowPadding":4.4,"labelOffset":4,"symbolSize":64,"symbolStrokeWidth":1,"labelFontSize":13.5,"labelFont":"Liberation Sans","labelColor":"#111","labelLimit":300,
    "labelExpr":"['t = 0 min','t = 10 min, T = 295 K','t = 10 min, T = 292 K','t = 10 min, T = 319 K','t = 15 min, T = 340 K','t = 15 min, T = 345 K','t = 44 min, T = 363 K','t = 2 weeks, T = 363 K'][datum.value - 1]"}},
  "fill":{"field":"s","type":"nominal","scale":{"domain":[1,2,3,4,5,6,7,8],"range":["#111","#fff","#111","#fff","#111","#fff","#111","#fff"]},
   "legend":{"title":null,"orient":"none","legendX":166,"legendY":45,"padding":0,"rowPadding":4.4,"labelOffset":4,"symbolSize":64,"symbolStrokeWidth":1,"labelFontSize":13.5,"labelFont":"Liberation Sans","labelColor":"#111","labelLimit":300,
    "labelExpr":"['t = 0 min','t = 10 min, T = 295 K','t = 10 min, T = 292 K','t = 10 min, T = 319 K','t = 15 min, T = 340 K','t = 15 min, T = 345 K','t = 44 min, T = 363 K','t = 2 weeks, T = 363 K'][datum.value - 1]"}},
  "stroke":{"field":"s","type":"nominal","scale":{"domain":[1,2,3,4,5,6,7,8],"range":["#111","#555","#444","#777","#222","#777","#222","#777"]},
   "legend":{"title":null,"orient":"none","legendX":166,"legendY":45,"padding":0,"rowPadding":4.4,"labelOffset":4,"symbolSize":64,"symbolStrokeWidth":1,"labelFontSize":13.5,"labelFont":"Liberation Sans","labelColor":"#111","labelLimit":300,
    "labelExpr":"['t = 0 min','t = 10 min, T = 295 K','t = 10 min, T = 292 K','t = 10 min, T = 319 K','t = 15 min, T = 340 K','t = 15 min, T = 345 K','t = 44 min, T = 363 K','t = 2 weeks, T = 363 K'][datum.value - 1]"}}
 }},
{"data":{"values":[{}]},"mark":{"type":"text","align":"left","baseline":"middle","fontSize":15,"font":"Liberation Sans","color":"#111"},"encoding":{"x":{"datum":48.136},"y":{"datum":4234},"text":{"value":"(111)γ"}}},
{"data":{"values":[{}]},"mark":{"type":"text","align":"left","baseline":"middle","fontSize":10,"font":"Liberation Sans","color":"#111","dx":41,"dy":7},"encoding":{"x":{"datum":48.136},"y":{"datum":4234},"text":{"value":"a"}}},
{"data":{"values":[{}]},"mark":{"type":"text","align":"left","baseline":"middle","fontSize":15,"font":"Liberation Sans","color":"#111"},"encoding":{"x":{"datum":49.738},"y":{"datum":4893},"text":{"value":"(111)γ"}}},
{"data":{"values":[{}]},"mark":{"type":"text","align":"left","baseline":"middle","fontSize":10,"font":"Liberation Sans","color":"#111","dx":41,"dy":8},"encoding":{"x":{"datum":49.738},"y":{"datum":4893},"text":{"value":"b"}}},
{"data":{"values":[{}]},"mark":{"type":"text","align":"left","baseline":"middle","fontSize":15,"font":"Liberation Sans","color":"#111"},"encoding":{"x":{"datum":52.601},"y":{"datum":4831},"text":{"value":"(111)γ"}}},
{"data":{"values":[{}]},"mark":{"type":"text","align":"left","baseline":"middle","fontSize":10,"font":"Liberation Sans","color":"#111","dx":42,"dy":8},"encoding":{"x":{"datum":52.601},"y":{"datum":4831},"text":{"value":"1"}}},
{"data":{"values":[{}]},"mark":{"type":"text","align":"left","baseline":"middle","fontSize":15,"font":"Liberation Sans","color":"#111"},"encoding":{"x":{"datum":48.269},"y":{"datum":2975},"text":{"value":"(111)γ"}}},
{"data":{"values":[{}]},"mark":{"type":"text","align":"left","baseline":"middle","fontSize":10,"font":"Liberation Sans","color":"#111","dx":42,"dy":10},"encoding":{"x":{"datum":48.269},"y":{"datum":2975},"text":{"value":"2"}}},
{"data":{"values":[{}]},"mark":{"type":"rule","color":"#111","strokeWidth":1},"encoding":{"x":{"datum":48.633},"y":{"datum":3983},"x2":{"datum":48.981},"y2":{"datum":3300}}},
{"data":{"values":[{}]},"mark":{"type":"rule","color":"#111","strokeWidth":1},"encoding":{"x":{"datum":49.763},"y":{"datum":4909},"x2":{"datum":49.403},"y2":{"datum":4487}}},
{"data":{"values":[{}]},"mark":{"type":"rule","color":"#111","strokeWidth":1},"encoding":{"x":{"datum":52.816},"y":{"datum":4633},"x2":{"datum":52.481},"y2":{"datum":4243}}},
{"data":{"values":[{}]},"mark":{"type":"rule","color":"#111","strokeWidth":1},"encoding":{"x":{"datum":48.77},"y":{"datum":2731},"x2":{"datum":49.216},"y2":{"datum":2520}}},
{"data":{"values":[{}]},"mark":{"type":"rule","color":"#111","strokeWidth":1},"encoding":{"x":{"datum":48.77},"y":{"datum":2731},"x2":{"datum":49.291},"y2":{"datum":2146}}},
{"data":{"values":[{}]},"mark":{"type":"rule","color":"#111","strokeWidth":1},"encoding":{"x":{"datum":48.77},"y":{"datum":2731},"x2":{"datum":49.254},"y2":{"datum":1869}}},
{"data":{"values":[{}]},"mark":{"type":"rule","color":"#111","strokeWidth":1},"encoding":{"x":{"datum":48.77},"y":{"datum":2731},"x2":{"datum":49.328},"y2":{"datum":1382}}},
{"data":{"values":[{}]},"mark":{"type":"rule","color":"#111","strokeWidth":1},"encoding":{"x":{"datum":48.77},"y":{"datum":2731},"x2":{"datum":49.378},"y2":{"datum":1089}}},
{"data":{"values":[{}]},"mark":{"type":"rule","color":"#111","strokeWidth":1},"encoding":{"x":{"datum":48.77},"y":{"datum":2731},"x2":{"datum":49.291},"y2":{"datum":764}}},
{"data":{"values":[{}]},"mark":{"type":"rule","color":"#111","strokeWidth":1},"encoding":{"x":{"datum":48.77},"y":{"datum":2731},"x2":{"datum":49.229},"y2":{"datum":520}}},
{"data":{"values":[{}]},"mark":{"type":"rule","color":"#111","strokeWidth":1},"encoding":{"x":{"datum":48.77},"y":{"datum":2731},"x2":{"datum":49.167},"y2":{"datum":276}}}
],
"resolve":{"scale":{"shape":"independent","fill":"independent","stroke":"independent","strokeDash":"independent"}}
}
